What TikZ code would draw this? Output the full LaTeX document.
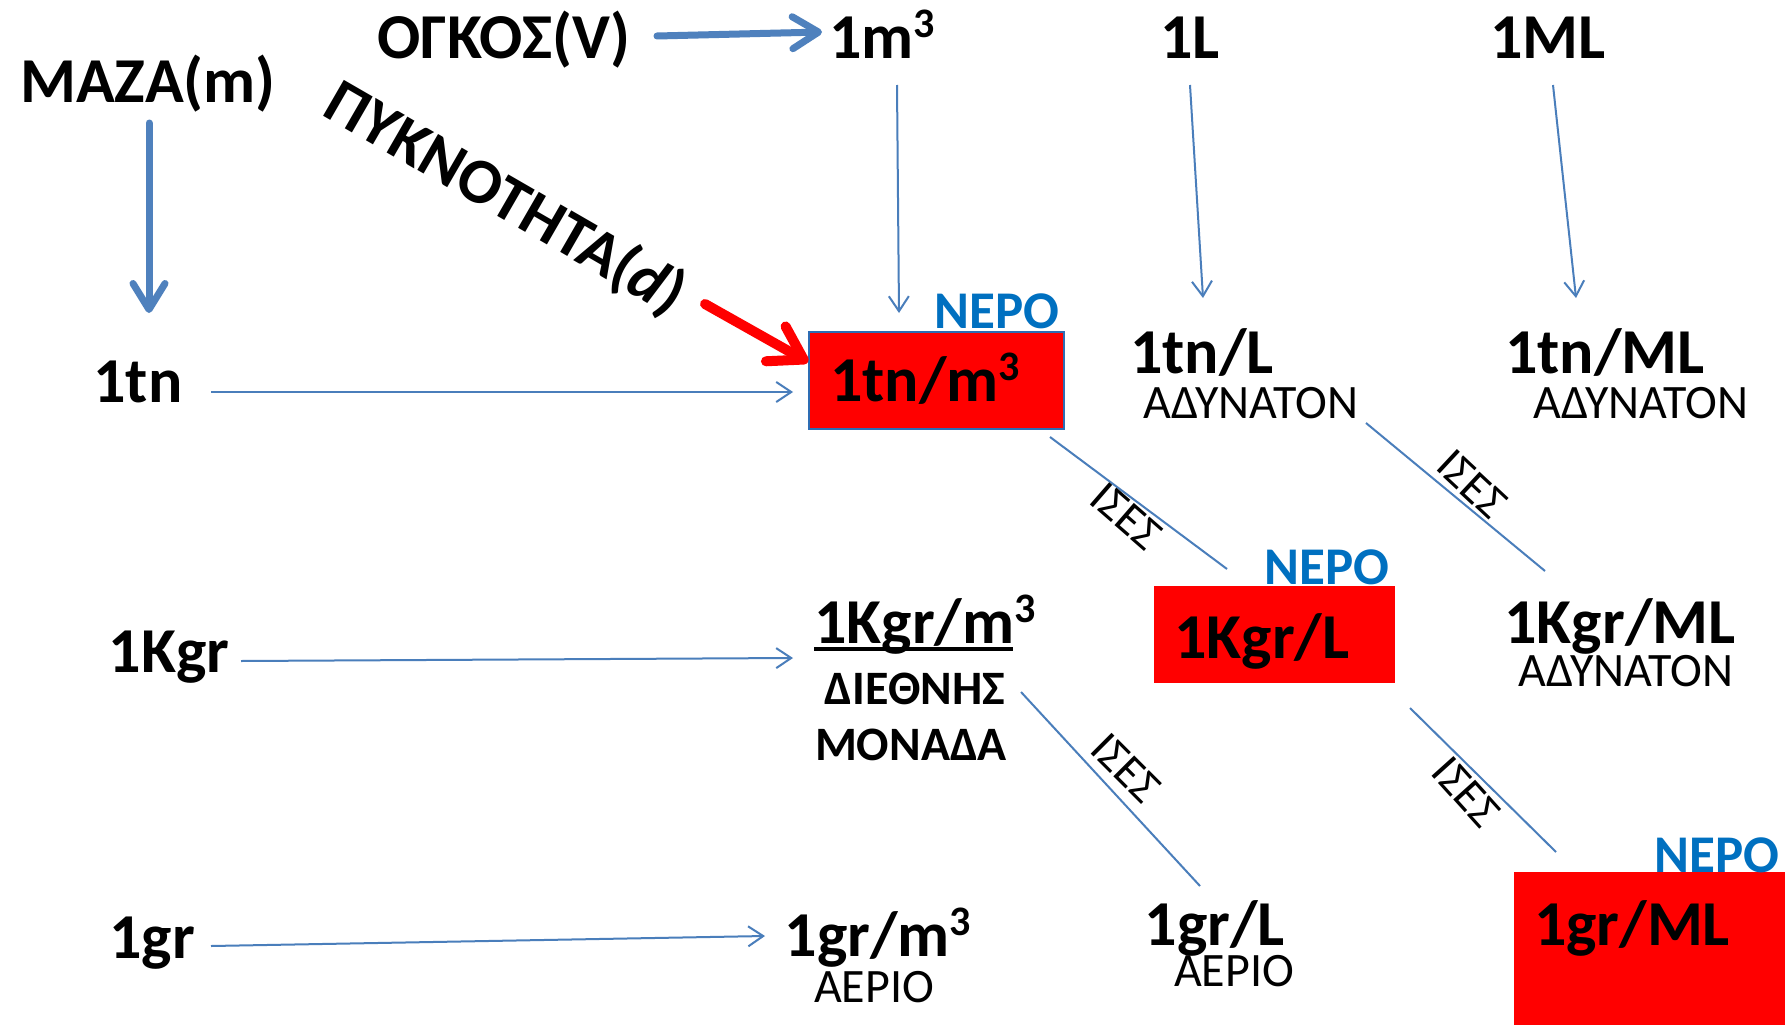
\documentclass[tikz,border=0pt]{standalone}
\usepackage{fontspec}
\setmainfont{Carlito}
\usetikzlibrary{arrows.meta}
\definecolor{lineblue}{HTML}{4A7EBB}
\definecolor{thickblue}{HTML}{4F81BD}
\definecolor{neroblue}{HTML}{0070C0}
\definecolor{boxred}{HTML}{FF0000}
\definecolor{boxborder}{HTML}{2E6DB4}
\newcommand{\supthree}{\raisebox{21pt}{\fontsize{42}{42}\selectfont 3}}
\begin{document}
\begin{tikzpicture}[x=1pt,y=-1pt,
 big/.style={font=\bfseries\fontsize{64}{72}\selectfont, inner sep=0pt, anchor=base},
 note/.style={font=\fontsize{48}{54}\selectfont, inner sep=0pt, anchor=base},
 notebold/.style={font=\bfseries\fontsize{48}{54}\selectfont, inner sep=0pt, anchor=base},
 nero/.style={font=\bfseries\fontsize{53}{60}\selectfont, text=neroblue, inner sep=0pt, anchor=base},
 ises/.style={font=\fontsize{46}{50}\selectfont, inner sep=0pt},
 thinarrow/.style={draw=lineblue, line width=2pt, -{Straight Barb[length=15pt,width=20pt]}},
 thinline/.style={draw=lineblue, line width=2pt},
 thickarrow/.style={draw=thickblue, line width=7pt, line cap=round, -{Straight Barb[round,length=26pt,width=32pt]}},
 redarrow/.style={draw=boxred, line width=10pt, line cap=round, -{Straight Barb[round,length=32pt,width=40pt]}},
 redbox/.style={fill=boxred, inner sep=0pt, draw=none},
]
\fill[white] (0,0) rectangle (1785,1025);
\useasboundingbox (0,0) rectangle (1785,1025);

% red boxes
\node[redbox, draw=boxborder, line width=2.5pt, minimum width=255pt, minimum height=97pt] (box1) at (936.5,380.5) {};
\node[redbox, minimum width=241pt, minimum height=97pt] (box2) at (1274.5,634.5) {};
\node[redbox, minimum width=271pt, minimum height=153pt] (box3) at (1649.5,948.5) {};

% top row
\node[big] (maza) at (148,102) {ΜΑΖΑ(m)};
\node[big] (ogkos) at (504,59) {ΟΓΚΟΣ(V)};
\node[big] (m3) at (882,59) {1m\supthree};
\node[big] (L) at (1190,59) {1L};
\node[big] (ML) at (1548,59) {1ML};
\node[big, rotate=-30, anchor=center] (pyk) at (505,199) {ΠΥΚΝΟΤΗΤΑ(\textit{d})};

% row 1tn
\node[big] (tn) at (138,402) {1tn};
\node[big] (tnm3) at (925,401) {1tn/m\supthree};
\node[nero] (nero1) at (997,328) {ΝΕΡΟ};
\node[big] (tnL) at (1202,373) {1tn/L};
\node[note] (adyn1) at (1251,418) {ΑΔΥΝΑΤΟΝ};
\node[big] (tnML) at (1605,373) {1tn/ML};
\node[note] (adyn2) at (1641,418) {ΑΔΥΝΑΤΟΝ};

% row 1Kgr
\node[big] (kgr) at (169,672) {1Kgr};
\node[big] (kgrm3) at (925,643) {1Kgr/m\supthree};
\node[notebold] (diethnis) at (915,704) {ΔΙΕΘΝΗΣ};
\node[notebold] (monada) at (911,760) {ΜΟΝΑΔΑ};
\node[nero] (nero2) at (1327,584) {ΝΕΡΟ};
\node[big] (kgrL) at (1262,658) {1Kgr/L};
\node[big] (kgrML) at (1620,643) {1Kgr/ML};
\node[note] (adyn3) at (1626,686) {ΑΔΥΝΑΤΟΝ};

% row 1gr
\node[big] (gr) at (152,958) {1gr};
\node[big] (grm3) at (878,956) {1gr/m\supthree};
\node[note] (aerio1) at (874,1002) {ΑΕΡΙΟ};
\node[big] (grL) at (1215,945) {1gr/L};
\node[note] (aerio2) at (1234,986) {ΑΕΡΙΟ};
\node[nero] (nero3) at (1717,872) {ΝΕΡΟ};
\node[big] (grML) at (1632,945) {1gr/ML};

% underline of 1Kgr/m3
\draw[line width=3.5pt] (814,649) -- (1013,649);

% connector end points
\coordinate (mazaS) at (149,123);
\coordinate (tnN) at (149,313);
\coordinate (ogkosE) at (657,36);
\coordinate (m3W) at (822,32);
\coordinate (m3S) at (897,85);
\coordinate (box1N) at (899,313);
\coordinate (LS) at (1190,85);
\coordinate (tnLN) at (1203,298);
\coordinate (MLS) at (1553,85);
\coordinate (tnMLN) at (1576,298);
\coordinate (pykE) at (705,304);
\coordinate (box1NW) at (808,362);
\coordinate (tnE) at (211,392);
\coordinate (box1W) at (793,392);
\coordinate (kgrE) at (241,661);
\coordinate (kgrm3W) at (793,658);
\coordinate (grE) at (211,946);
\coordinate (grm3W) at (765,936);

\coordinate (i1a) at (1050,437);
\coordinate (i1b) at (1227,569);
\coordinate (i2a) at (1366,423);
\coordinate (i2b) at (1545,571);
\coordinate (i3a) at (1021,692);
\coordinate (i3b) at (1200,886);
\coordinate (i4a) at (1410,708);
\coordinate (i4b) at (1556,852);

% thick arrows
\draw[thickarrow] (mazaS) -- (tnN);
\draw[thickarrow] (ogkosE) -- (m3W);
\draw[redarrow] (pykE) -- (box1NW);

% thin arrows
\draw[thinarrow] (m3S) -- (box1N);
\draw[thinarrow] (LS) -- (tnLN);
\draw[thinarrow] (MLS) -- (tnMLN);
\draw[thinarrow] (tnE) -- (box1W);
\draw[thinarrow] (kgrE) -- (kgrm3W);
\draw[thinarrow] (grE) -- (grm3W);

% equality lines
\draw[thinline] (i1a) -- (i1b);
\draw[thinline] (i2a) -- (i2b);
\draw[thinline] (i3a) -- (i3b);
\draw[thinline] (i4a) -- (i4b);
\node[ises, rotate=-41] (is1) at (1126,516) {ΙΣΕΣ};
\node[ises, rotate=-43] (is2) at (1472,484) {ΙΣΕΣ};
\node[ises, rotate=-45] (is3) at (1126,768) {ΙΣΕΣ};
\node[ises, rotate=-48] (is4) at (1466,792) {ΙΣΕΣ};
\end{tikzpicture}
\end{document}
